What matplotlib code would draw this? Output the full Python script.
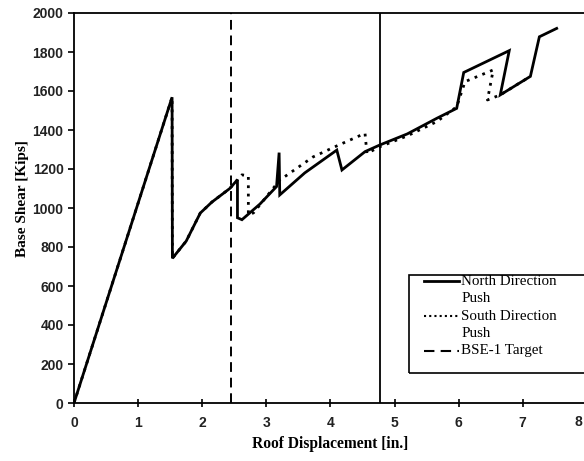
import matplotlib.pyplot as plt
from matplotlib.patches import Rectangle

# pushover curves
north_x = [0, 1.53, 1.535, 1.75, 1.97, 2.15, 2.43, 2.55, 2.55, 2.62, 2.9, 3.16, 3.2, 3.21,
           3.6, 4.10, 4.18, 4.54, 4.77, 5.2, 5.66, 5.97, 6.08, 6.79, 6.65, 7.12, 7.26, 7.53]
north_y = [0, 1568, 742, 830, 974, 1030, 1100, 1145, 950, 940, 1020, 1110, 1284, 1067,
           1180, 1297, 1195, 1289, 1323, 1380, 1460, 1511, 1695, 1807, 1580, 1675, 1878, 1921]

south_x = [0, 1.53, 1.535, 1.75, 1.97, 2.15, 2.43, 2.62, 2.72, 2.72, 2.8, 3.21, 3.73,
           4.07, 4.54, 4.57, 4.77, 5.2, 5.66, 5.97, 6.10, 6.54, 6.45, 6.65, 7.12]
south_y = [0, 1568, 742, 830, 974, 1030, 1100, 1170, 1165, 965, 975, 1143, 1262,
           1314, 1383, 1280, 1314, 1370, 1443, 1519, 1648, 1708, 1554, 1580, 1675]

bse1_target = 2.45
bse2_target = 4.77

x_ticks = list(range(0, 9))
y_ticks = list(range(0, 2001, 200))

fig = plt.figure(figsize=(5.84, 4.61), dpi=100)
ax = fig.add_axes([74 / 584, 58 / 461, 8 * 64.1 / 584, 390 / 461])

ax.plot(north_x, north_y, color='black', lw=2.0, solid_joinstyle='miter')
ax.plot(south_x, south_y, color='black', lw=2.0, linestyle=(0, (1, 2)))
ax.axvline(bse1_target, color='black', lw=1.4, linestyle=(0, (5, 3)))
ax.axvline(bse2_target, color='black', lw=1.3)

ax.set_xlim(0, 8)
ax.set_ylim(0, 2000)
# the last x label sits past the figure edge, so it is drawn separately below
ax.set_xticks(x_ticks, labels=[str(t) for t in x_ticks[:-1]] + [''])
ax.set_yticks(y_ticks)

ax.tick_params(axis='x', direction='inout', length=6, width=1.2, pad=6)
ax.tick_params(axis='y', direction='out', length=4, width=1.2)
tick_font = dict(family='Liberation Sans', fontweight='bold', fontsize=10, color='#222222')
for lab in ax.get_xticklabels() + ax.get_yticklabels():
    lab.set(**tick_font)
ax.annotate(str(x_ticks[-1]), xy=(x_ticks[-1], 0), xycoords='data',
            xytext=(-3, -8.6), textcoords='offset points', ha='right', va='top',
            annotation_clip=False, **tick_font)
for s in ax.spines.values():
    s.set_linewidth(1.3)

ax.set_xlabel('Roof Displacement [in.]', family='Liberation Serif', fontweight='bold',
              fontsize=11.2, labelpad=5)
ax.set_ylabel('Base Shear [Kips]', family='Liberation Serif', fontweight='bold',
              fontsize=11)
ax.yaxis.set_label_coords(-0.088, 0.524)

# legend box drawn by hand (handles sit on the first text line)
ax.add_patch(Rectangle((5.23, 154), 3.0, 502, fill=False, lw=1.2, ec='black',
                       clip_on=False, zorder=5))
rows = [(625, '-', 'North Direction', 536),
        (446, (0, (1, 1.5)), 'South Direction', 357),
        (267, (0, (5, 3)), 'BSE-1 Target', None)]
for yy, ls, first, second_y in rows:
    ax.plot([5.46, 6.00], [yy, yy], color='black', lw=2.0 if ls == '-' else 1.5,
            linestyle=ls, clip_on=False, zorder=6)
    ax.text(6.04, yy, first, family='Liberation Serif', fontsize=10.8, va='center',
            ha='left', zorder=6)
    if second_y:
        ax.text(6.04, second_y, 'Push', family='Liberation Serif', fontsize=10.8,
                va='center', ha='left', zorder=6)

fig.savefig('out.png', dpi=100)
